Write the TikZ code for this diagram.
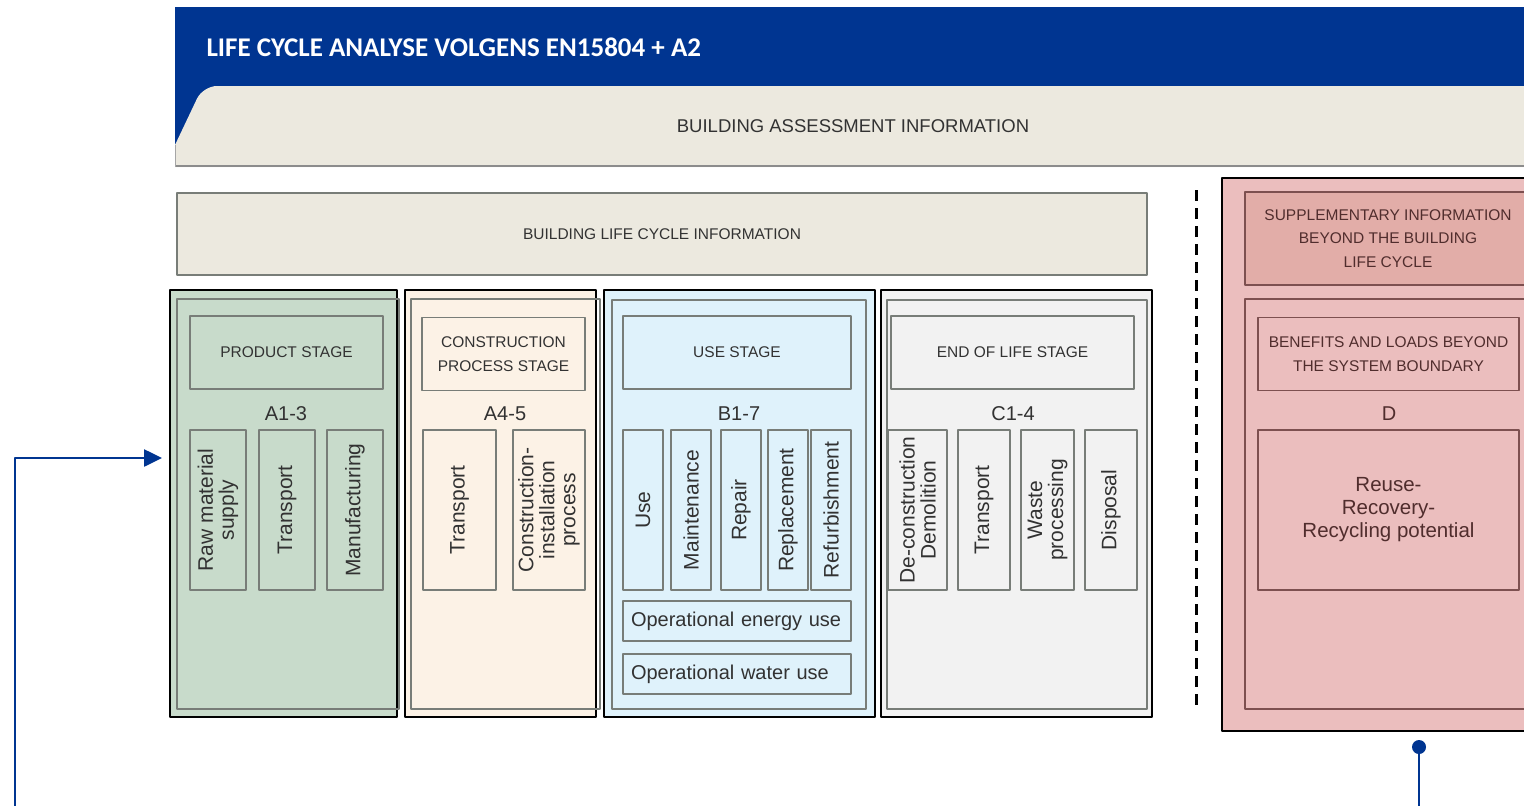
\documentclass[tikz,border=0pt]{standalone}
\usepackage{fontspec}
\setmainfont{Liberation Sans}
\newfontfamily\titlefont{Carlito}
\usetikzlibrary{arrows.meta}
\definecolor{hdblue}{RGB}{0,53,145}
\definecolor{sand}{RGB}{236,233,223}
\definecolor{prodgreen}{RGB}{200,219,203}
\definecolor{conscream}{RGB}{252,242,230}
\definecolor{useblue}{RGB}{223,242,251}
\definecolor{eolgray}{RGB}{242,242,242}
\definecolor{suppink}{RGB}{235,190,190}
\definecolor{suprose}{RGB}{226,173,168}
\definecolor{boxline}{RGB}{120,125,120}
\definecolor{pinkline}{RGB}{125,80,80}
\definecolor{txtgray}{RGB}{50,50,50}
\definecolor{txtbrown}{RGB}{80,45,45}
\begin{document}
\begin{tikzpicture}[x=1pt, y=-1pt, line join=round, >=stealth,
		stage/.style={draw=black, line width=2.6, fill=#1, inner sep=0, outer sep=0},
		frame/.style={draw=boxline, line width=1.2, inner sep=0, outer sep=0},
		head/.style={frame, align=center, text=txtgray, font=\fontsize{15.5}{24}\selectfont},
		sub/.style={frame, rotate=90, align=center, text=txtgray, font=\fontsize{21}{21}\selectfont},
		oper/.style={frame, align=left, text=txtgray, inner xsep=4, font=\fontsize{20}{20}\selectfont},
		code/.style={text=txtgray, inner sep=0, font=\fontsize{20}{20}\selectfont},
		link/.style={draw=hdblue, line width=2.6}]
			\useasboundingbox (0,0) rectangle (1524,806);
			\clip (0,0) rectangle (1524,806);
			% header band
			\fill[hdblue] (175,7) rectangle (1530,150);
			\fill[sand] (175,167) -- (175,145) [rounded corners=14] -- (203,86) [sharp corners] -- (1530,86) -- (1530,167) -- cycle;
			\draw[black!45, line width=2] (175,166) -- (1530,166);
			\draw[black!35, line width=1] (175,145) -- (175,167);
			\node[anchor=west, text=white, font=\titlefont\bfseries\fontsize{27}{27}\selectfont] (title) at (203,47) {LIFE CYCLE ANALYSE VOLGENS EN15804 + A2};
			\node[text=txtgray, font=\fontsize{18.5}{18.5}\selectfont] (assess) at (853,126) {BUILDING ASSESSMENT INFORMATION};
			\node[frame, fill=sand, minimum width=970, minimum height=82, text=txtgray, font=\fontsize{15.5}{15.5}\selectfont] (lifeinfo) at (662,234) {BUILDING LIFE CYCLE INFORMATION};
			\draw[line width=3, dash pattern=on 11 off 7] (1196,190) -- (1196,712);
			% product stage
			\node[stage=prodgreen, minimum width=227, minimum height=427] (prod) at (283.5,503.5) {};
			\node[frame, minimum width=222, minimum height=410] (prodin) at (288,504) {};
			\node[head, minimum width=193, minimum height=73] (prodhead) at (286.5,352.5) {PRODUCT STAGE};
			\node[code] (prodcode) at (286,414) {A1-3};
			\foreach \cx/\w/\txt [count=\i] in {218/56/{Raw material\\supply}, 287/56/Transport, 355/56/Manufacturing}
			\node[sub, minimum width=160, minimum height=\w] (prod\i) at (\cx,510) {\txt};
			% construction process stage
			\node[stage=conscream, minimum width=191, minimum height=427] (cons) at (500.5,503.5) {};
			\node[frame, minimum width=189, minimum height=410] (consin) at (505.5,504) {};
			\node[head, minimum width=163, minimum height=73] (conshead) at (503.5,354) {CONSTRUCTION\\PROCESS STAGE};
			\node[code] (conscode) at (505,414) {A4-5};
			\foreach \cx/\w/\txt [count=\i] in {459.5/73/Transport, 549/72/{Construction-\\installation\\process}}
			\node[sub, minimum width=160, minimum height=\w] (cons\i) at (\cx,510) {\txt};
			% use stage
			\node[stage=useblue, minimum width=271, minimum height=427] (use) at (739.5,503.5) {};
			\node[frame, minimum width=254, minimum height=409] (usein) at (739,504.5) {};
			\node[head, minimum width=228, minimum height=73] (usehead) at (737,352.5) {USE STAGE};
			\node[code] (usecode) at (739,414) {B1-7};
			\foreach \cx/\txt [count=\i] in {643/Use, 691/Maintenance, 741/Repair, 788/Replacement, 831/Refurbishment}
			\node[sub, minimum width=160, minimum height=40] (use\i) at (\cx,510) {\txt};
			\node[oper, minimum height=40, text width=220] (energy) at (737,621) {\hspace*{4pt}Operational energy use};
			\node[oper, minimum height=40, text width=220] (water) at (737,674) {\hspace*{4pt}Operational water use};
			% end of life stage
			\node[stage=eolgray, minimum width=271, minimum height=427] (eol) at (1016.5,503.5) {};
			\node[frame, minimum width=260, minimum height=409] (eolin) at (1017,504.5) {};
			\node[head, minimum width=243, minimum height=73] (eolhead) at (1012.5,352.5) {END OF LIFE STAGE};
			\node[code] (eolcode) at (1013,414) {C1-4};
			\foreach \cx/\w/\txt [count=\i] in {917.5/59/{De-construction\\Demolition}, 984/52/Transport, 1047.5/53/{Waste\\processing}, 1111/52/Disposal}
			\node[sub, minimum width=160, minimum height=\w] (eol\i) at (\cx,510) {\txt};
			% supplementary information
			\node[stage=suppink, minimum width=308, minimum height=553] (supp) at (1376,454.5) {};
			\node[frame, draw=pinkline, fill=suprose, minimum width=286, minimum height=93, align=center, text=txtbrown, font=\fontsize{15.5}{23.5}\selectfont] (supphead) at (1388,238.5) {SUPPLEMENTARY INFORMATION\\BEYOND THE BUILDING\\LIFE CYCLE};
			\node[frame, draw=pinkline, minimum width=286, minimum height=410] (suppin) at (1388,504) {};
			\node[head, draw=pinkline, text=txtbrown, minimum width=261, minimum height=73] (benefits) at (1388.5,354) {BENEFITS AND LOADS BEYOND\\THE SYSTEM BOUNDARY};
			\node[code, text=txtbrown] (dcode) at (1389,414) {D};
			\node[frame, draw=pinkline, minimum width=261, minimum height=160, align=center, text=txtbrown, font=\fontsize{20.5}{23}\selectfont] (reuse) at (1388.5,510) {Reuse-\\Recovery-\\Recycling potential};
			% connectors
			\coordinate (feedstart) at (15,810);
			\coordinate (feedend) at (162,458);
			\draw[link, -{Triangle[length=18pt, width=17pt]}] (feedstart) |- (feedend);
			\coordinate (dottop) at (1419,747);
			\coordinate (dotend) at (1419,810);
			\fill[hdblue] (dottop) circle (7);
			\draw[link] (dottop) -- (dotend);
		\end{tikzpicture}
\end{document}
